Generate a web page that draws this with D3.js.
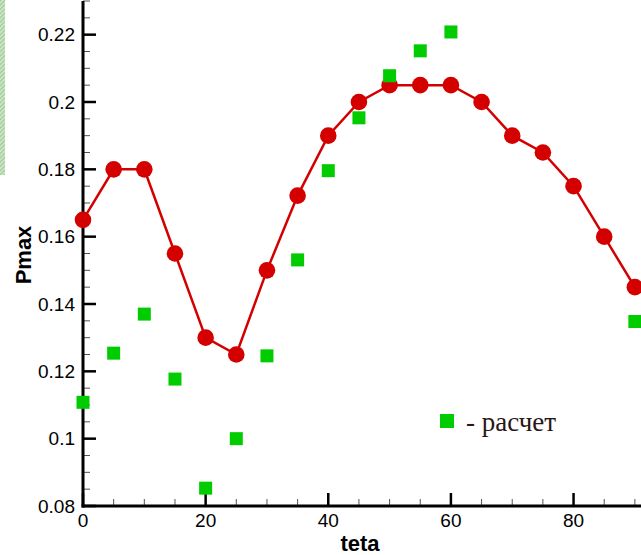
<!DOCTYPE html>
<html>
<head>
<meta charset="utf-8">
<script src="https://cdn.jsdelivr.net/npm/d3@7.9.0/dist/d3.min.js"></script>
<style>
  html, body { margin: 0; padding: 0; background: #fff; }
  svg { display: block; }
  .tick-label { font-family: "Liberation Sans", Arial, sans-serif; font-size: 19px; fill: #000; }
  .axis-title { font-family: "Liberation Sans", Arial, sans-serif; font-size: 22px; font-weight: bold; fill: #000; }
</style>
</head>
<body>
<svg id="chart" width="641" height="555"></svg>
<script>
// angle values
const teta = [0, 5, 10, 15, 20, 25, 30, 35, 40, 45, 50, 55, 60, 65, 70, 75, 80, 85, 90];
// line with circles
const pmaxLine = [0.165, 0.18, 0.18, 0.155, 0.13, 0.125, 0.15, 0.1722, 0.19, 0.2, 0.205, 0.205, 0.205, 0.2, 0.19, 0.185, 0.175, 0.16, 0.145];
// green squares ("расчет")
const tetaCalc = [0, 5, 10, 15, 20, 25, 30, 35, 40, 45, 50, 55, 60, 90];
const pmaxCalc = [0.1108, 0.1254, 0.137, 0.1177, 0.0853, 0.1, 0.1246, 0.1531, 0.1796, 0.1953, 0.2078, 0.2152, 0.2208, 0.1348];

const xMajor = [0, 20, 40, 60, 80];
const xMinor = d3.range(0, 91, 5);
const yMajor = [0.08, 0.1, 0.12, 0.14, 0.16, 0.18, 0.2, 0.22];
const yMinor = d3.range(0.08, 0.2301, 0.005);

const svg = d3.select('#chart');
const x = d3.scaleLinear().domain([0, 91]).range([83, 641]);
const y = d3.scaleLinear().domain([0.08, 0.23]).range([506, 1]);

// hatched strip at the left edge
const defs = svg.append('defs');
const pat = defs.append('pattern')
  .attr('id', 'hatch')
  .attr('width', 3).attr('height', 3)
  .attr('patternUnits', 'userSpaceOnUse')
  .attr('patternTransform', 'rotate(45)');
pat.append('rect').attr('width', 3).attr('height', 3).attr('fill', '#d6ead2');
pat.append('rect').attr('width', 1.5).attr('height', 3).attr('fill', '#9fcb96');
svg.append('rect')
  .attr('x', 0).attr('y', 0).attr('width', 5).attr('height', 175)
  .attr('fill', 'url(#hatch)');

// minor ticks
svg.append('g').selectAll('line')
  .data(yMinor.filter(v => !yMajor.some(m => Math.abs(m - v) < 1e-6)))
  .enter().append('line')
  .attr('x1', x(0)).attr('x2', x(0) + 7)
  .attr('y1', d => y(d)).attr('y2', d => y(d))
  .attr('stroke', '#555').attr('stroke-width', 1);

svg.append('g').selectAll('line')
  .data(xMinor.filter(v => !xMajor.includes(v)))
  .enter().append('line')
  .attr('x1', d => x(d)).attr('x2', d => x(d))
  .attr('y1', y(0.08)).attr('y2', y(0.08) - 7)
  .attr('stroke', '#555').attr('stroke-width', 1);

// major ticks
svg.append('g').selectAll('line')
  .data(yMajor)
  .enter().append('line')
  .attr('x1', x(0)).attr('x2', x(0) + 13)
  .attr('y1', d => y(d)).attr('y2', d => y(d))
  .attr('stroke', '#000').attr('stroke-width', 2.5);

svg.append('g').selectAll('line')
  .data(xMajor)
  .enter().append('line')
  .attr('x1', d => x(d)).attr('x2', d => x(d))
  .attr('y1', y(0.08)).attr('y2', y(0.08) - 13)
  .attr('stroke', '#000').attr('stroke-width', 2.5);

// axis lines
svg.append('line')
  .attr('x1', x(0)).attr('x2', x(0))
  .attr('y1', y(0.23)).attr('y2', y(0.08) + 1.5)
  .attr('stroke', '#000').attr('stroke-width', 3);
svg.append('line')
  .attr('x1', x(0) - 1.5).attr('x2', 641)
  .attr('y1', y(0.08)).attr('y2', y(0.08))
  .attr('stroke', '#000').attr('stroke-width', 3);

// tick labels
svg.append('g').selectAll('text')
  .data(yMajor)
  .enter().append('text')
  .attr('class', 'tick-label')
  .attr('x', 75).attr('y', d => y(d))
  .attr('dy', '0.35em')
  .attr('text-anchor', 'end')
  .text(d => String(+d.toFixed(2)));

svg.append('g').selectAll('text')
  .data(xMajor)
  .enter().append('text')
  .attr('class', 'tick-label')
  .attr('x', d => x(d)).attr('y', 527)
  .attr('text-anchor', 'middle')
  .text(d => d);

// axis titles
svg.append('text')
  .attr('class', 'axis-title')
  .attr('x', 360).attr('y', 551)
  .attr('text-anchor', 'middle')
  .text('teta');
svg.append('text')
  .attr('class', 'axis-title')
  .attr('transform', 'translate(31,255) rotate(-90)')
  .attr('text-anchor', 'middle')
  .text('Pmax');

// red line with circles
const lineData = teta.map((t, i) => [t, pmaxLine[i]]);
svg.append('path')
  .datum(lineData)
  .attr('fill', 'none')
  .attr('stroke', '#d40000')
  .attr('stroke-width', 2.5)
  .attr('d', d3.line().x(d => x(d[0])).y(d => y(d[1])));
svg.append('g').selectAll('circle')
  .data(lineData)
  .enter().append('circle')
  .attr('cx', d => x(d[0])).attr('cy', d => y(d[1]))
  .attr('r', 8.3)
  .attr('fill', '#d40000');

// green squares
const sq = 13;
svg.append('g').selectAll('rect')
  .data(tetaCalc.map((t, i) => [t, pmaxCalc[i]]))
  .enter().append('rect')
  .attr('x', d => x(d[0]) - sq / 2).attr('y', d => y(d[1]) - sq / 2)
  .attr('width', sq).attr('height', sq)
  .attr('fill', '#00cc00');

// legend
svg.append('rect')
  .attr('x', 440).attr('y', 414).attr('width', 14).attr('height', 14)
  .attr('fill', '#00cc00');
svg.append('text')
  .attr('x', 466).attr('y', 431)
  .attr('font-family', '"Liberation Serif", "Times New Roman", serif')
  .attr('font-size', 27)
  .attr('fill', '#2a1616')
  .text('- расчет');
</script>
</body>
</html>
